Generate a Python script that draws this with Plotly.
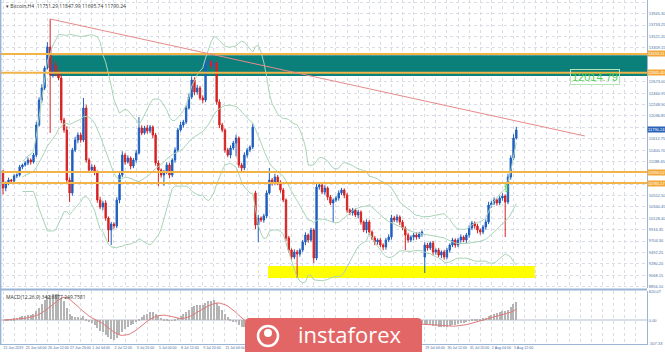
import plotly.graph_objects as go
import pandas as pd

# ---------------- data (Bitcoin H4) ----------------
close = [10694, 10787, 10843, 10824, 10918, 10936, 11085, 11123, 11160, 11216,
         11179, 11309, 11869, 12335, 12559, 12932, 13323, 12801, 12988, 12839,
         12745, 11962, 11775, 10843, 10601, 11402, 11589, 11682, 11589, 12186,
         11216, 11029, 11085, 10992, 10470, 10339, 10414, 10134, 9910, 10022,
         9985, 10470, 10936, 11309, 11179, 11253, 11104, 11216, 11347, 11813,
         11720, 11813, 11757, 11831, 11682, 11160, 11029, 10936, 10992, 11123,
         10936, 11216, 11402, 11775, 11869, 11925, 12186, 12391, 12708, 12484,
         12559, 12372, 12335, 13025, 13044, 12969, 13025, 12298, 11869, 11775,
         11402, 11309, 11440, 11533, 11626, 11123, 11067, 11309, 11402, 11458,
         11831, 10004, 10134, 10097, 10172, 10601, 10843, 10787, 10899, 10806,
         10656, 10470, 9761, 9537, 9407, 9500, 9463, 9537, 9687, 9817,
         9724, 9910, 9388, 10712, 10750, 10619, 10694, 10526, 10414, 10470,
         10507, 10601, 10656, 10563, 10283, 10228, 10283, 10190, 10246, 10060,
         9910, 10060, 9873, 9761, 9687, 9724, 9631, 9593, 9724, 9780,
         10134, 10097, 10153, 10060, 9948, 9817, 9724, 9780, 9817, 9780,
         9836, 9873, 9631, 9575, 9668, 9500, 9537, 9444, 9500, 9407,
         9537, 9631, 9724, 9631, 9724, 9780, 9724, 9817, 9948, 10041,
         9985, 9910, 9873, 9966, 10060, 10377, 10414, 10470, 10414, 10507,
         10545, 10433, 10899, 11253, 11626, 11775]

upper_wick = [40, 30, 45, 20, 35, 30, 40, 25, 35, 50,
              30, 40, 60, 50, 70, 40, 90, 523, 60, 80,
              50, 60, 40, 70, 50, 40, 60, 50, 45, 186,
              60, 40, 50, 40, 30, 60, 40, 50, 30, 40,
              30, 50, 40, 70, 40, 50, 30, 40, 60, 205,
              50, 40, 60, 40, 30, 40, 50, 30, 40, 50,
              40, 30, 50, 40, 60, 40, 50, 60, 70, 50,
              60, 40, 50, 80, 60, 40, 50, 40, 50, 40,
              30, 40, 50, 40, 60, 30, 40, 50, 40, 30,
              60, 40, 60, 30, 40, 50, 224, 40, 60, 40,
              30, 40, 30, 40, 30, 50, 40, 30, 40, 50,
              30, 40, 30, 60, 50, 40, 50, 30, 40, 30,
              40, 50, 40, 30, 40, 30, 40, 30, 40, 30,
              30, 50, 40, 30, 40, 30, 40, 30, 40, 50,
              60, 40, 50, 30, 40, 30, 40, 30, 40, 50,
              40, 30, 50, 40, 30, 40, 30, 40, 30, 40,
              40, 30, 40, 30, 40, 50, 30, 40, 50, 40,
              30, 40, 30, 40, 50, 60, 40, 50, 30, 40,
              50, 30, 60, 50, 70, 60]

lower_wick = [120, 60, 40, 50, 30, 40, 30, 40, 30, 40,
              50, 30, 40, 30, 50, 40, 30, 1080, 50, 60,
              40, 60, 50, 70, 168, 50, 40, 60, 50, 40,
              50, 40, 30, 60, 50, 40, 60, 50, 223, 280,
              50, 40, 60, 40, 50, 30, 60, 40, 50, 30,
              40, 30, 50, 40, 60, 50, 300, 50, 200, 40,
              60, 40, 50, 40, 30, 50, 40, 30, 40, 60,
              50, 40, 60, 40, 30, 50, 40, 50, 60, 40,
              50, 40, 60, 40, 250, 50, 60, 40, 50, 40,
              40, 80, 320, 40, 50, 40, 30, 50, 40, 60,
              50, 40, 60, 50, 60, 40, 448, 50, 40, 60,
              50, 40, 93, 40, 50, 40, 50, 60, 40, 354,
              40, 50, 40, 60, 50, 40, 50, 40, 60, 50,
              40, 60, 50, 40, 60, 50, 40, 60, 50, 40,
              50, 40, 50, 60, 40, 280, 50, 40, 60, 50,
              40, 50, 298, 50, 40, 60, 50, 40, 60, 50,
              40, 50, 40, 50, 40, 50, 40, 60, 50, 40,
              50, 60, 50, 40, 50, 40, 50, 40, 50, 40,
              50, 653, 40, 50, 40, 30]

gap_opens = {0: 10992, 91: 10601, 152: 9407}

x_labels = ["21 Jun 2019", "25 Jun 04:00", "26 Jun 12:00", "27 Jun 20:00",
            "1 Jul 04:00", "2 Jul 12:00", "3 Jul 20:00", "5 Jul 04:00",
            "8 Jul 12:00", "9 Jul 20:00", "11 Jul 04:00", "12 Jul 12:00",
            "15 Jul 20:00", "17 Jul 04:00", "18 Jul 12:00", "19 Jul 20:00",
            "23 Jul 04:00", "24 Jul 12:00", "25 Jul 20:00", "29 Jul 04:00",
            "30 Jul 12:00", "31 Jul 20:00", "2 Aug 04:00", "5 Aug 12:00"]
x_label_idx = list(range(0, 8 * len(x_labels), 8))

price_ticks = [14157.35, 13945.30, 13733.25, 13521.20, 13309.15, 13097.10,
               12885.05, 12673.00, 12460.95, 12248.90, 12036.85, 11824.80,
               11612.75, 11400.70, 11188.65, 10976.60, 10764.55, 10552.50,
               10340.45, 10128.40, 9916.35, 9704.30, 9492.25, 9280.20,
               9068.15, 8856.10]

zone_top, zone_bot = 13170, 12783
zone_start = 17
zone_lines = [13193.11, 12845.40]
support_lines = [10990.52, 10785.17]
yellow_x = [95.5, 191.7]
yellow_y = [9015, 9239]
trend_x = [17, 209.7]
trend_y = [13846, 11664]
zone_label = "12014.79"
zone_label_pos = (213.5, 12770)
arrow_pos = (181.6, 10712)
last_price = 11790.24
title_text = "Bitcoin,H4  11751.29 11847.99 11695.74 11790.24"

# ---------------- derived ----------------
n = len(close)
idx = list(range(n))
opens = [gap_opens.get(i, close[i - 1] if i > 0 else close[0]) for i in idx]
highs = [max(o, c) + u for o, c, u in zip(opens, close, upper_wick)]
lows = [min(o, c) - l for o, c, l in zip(opens, close, lower_wick)]

s = pd.Series(close, dtype=float)
mid = s.rolling(20, min_periods=8).mean()
sd = s.rolling(20, min_periods=8).std(ddof=0)
bb_up, bb_dn = mid + 2 * sd, mid - 2 * sd
macd = s.ewm(span=12, adjust=False).mean() - s.ewm(span=26, adjust=False).mean()
signal = macd.rolling(9, min_periods=1).mean()

XR = [-1.08, 232.1]
YR = [8829, 14200]
PLOT_W = 647
GRID = "#d9dee6"
AX = "#9ab4d6"
TXT = "#4a6fa5"
AXFONT = dict(size=4, color=TXT, family="Liberation Sans")
px_per_price = 288 / (YR[1] - YR[0])
LOGO_X = (245, 422)

boxed = zone_lines + support_lines + [last_price]
tick_text = ["" if any(abs(v - b) * px_per_price < 6 for b in boxed) else f"{v:.2f}"
             for v in price_ticks]


def bar_px(i):
    return (i - XR[0]) / (XR[1] - XR[0]) * PLOT_W


# date labels that sit under the logo box are hidden, as in the reference
x_text = ["" if LOGO_X[0] - 2 <= bar_px(i) <= LOGO_X[1] else t
          for i, t in zip(x_label_idx, x_labels)]

fig = go.Figure()

for band in (bb_up, mid, bb_dn):
    fig.add_trace(go.Scatter(x=idx, y=band, mode="lines",
                             line=dict(color="#a9d4b6", width=1),
                             hoverinfo="skip", xaxis="x", yaxis="y"))

fig.add_trace(go.Candlestick(
    x=idx, open=opens, high=highs, low=lows, close=close,
    increasing=dict(line=dict(color="#1f5fc0", width=1), fillcolor="#1f5fc0"),
    decreasing=dict(line=dict(color="#d62222", width=1), fillcolor="#d62222"),
    whiskerwidth=0, xaxis="x", yaxis="y"))

fig.add_trace(go.Bar(x=idx, y=macd, marker=dict(color="#b4b4b4", line=dict(width=0)),
                     width=0.4, xaxis="x2", yaxis="y2"))
fig.add_trace(go.Scatter(x=idx, y=signal, mode="lines",
                         line=dict(color="#e07a7a", width=1), xaxis="x2", yaxis="y2"))

hi, lo = float(macd.max()), float(macd.min())
R = max(hi / 0.55, -lo / 0.45) * 1.02
mrange = [-0.45 * R, 0.55 * R]

shapes = []
shapes.append(dict(type="rect", xref="x", yref="y", x0=zone_start, x1=XR[1],
                   y0=zone_bot, y1=zone_top, fillcolor="#0b7f7a",
                   line=dict(width=0), layer="between"))
shapes.append(dict(type="rect", xref="x", yref="y", x0=yellow_x[0], x1=yellow_x[1],
                   y0=yellow_y[0], y1=yellow_y[1], fillcolor="#ffff00",
                   line=dict(width=0), layer="between"))
for lv in zone_lines + support_lines:
    shapes.append(dict(type="line", xref="paper", yref="y", x0=0, x1=1, y0=lv, y1=lv,
                       line=dict(color="#f2b446", width=2)))
shapes.append(dict(type="line", xref="x", yref="y", x0=trend_x[0], x1=trend_x[1],
                   y0=trend_y[0], y1=trend_y[1], line=dict(color="#e88a8a", width=1)))
shapes.append(dict(type="line", xref="paper", yref="paper", x0=0, x1=1,
                   y0=0.1584, y1=0.1584, line=dict(color=AX, width=2)))
shapes.append(dict(type="line", xref="paper", yref="paper", x0=0.001, x1=0.001,
                   y0=0, y1=1, line=dict(color=AX, width=1.5)))

# instaforex logo
x0, x1 = LOGO_X[0] / PLOT_W, LOGO_X[1] / PLOT_W
yb, yt = -0.04, (344 - 318) / 344
rx, ry = 5 / PLOT_W, 5 / 344
shapes.append(dict(type="path", xref="paper", yref="paper",
                   path=f"M {x0},{yb} L {x0},{yt-ry} Q {x0},{yt} {x0+rx},{yt} "
                        f"L {x1-rx},{yt} Q {x1},{yt} {x1},{yt-ry} L {x1},{yb} Z",
                   fillcolor="#e36666", line=dict(width=0), layer="above"))
cx, cy = 268 / PLOT_W, (344 - 336) / 344
shapes.append(dict(type="circle", xref="paper", yref="paper",
                   x0=cx - 10 / PLOT_W, x1=cx + 10 / PLOT_W, y0=cy - 10 / 344,
                   y1=cy + 10 / 344, line=dict(color="white", width=2.5), layer="above"))
shapes.append(dict(type="circle", xref="paper", yref="paper",
                   x0=cx - 4 / PLOT_W, x1=cx + 4 / PLOT_W, y0=cy - 1 / 344, y1=cy + 7 / 344,
                   fillcolor="white", line=dict(width=0), layer="above"))

annotations = [
    dict(xref="paper", yref="paper", x=0.006, y=0.997, xanchor="left", yanchor="top",
         text="▾ " + title_text, showarrow=False, font=dict(size=5, color="#333")),
    dict(xref="paper", yref="paper", x=0.006, y=0.150, xanchor="left", yanchor="top",
         text="MACD(12,26,9) 342.6877 249.7581", showarrow=False,
         font=dict(size=5, color="#333")),
    dict(xref="x", yref="y", x=zone_label_pos[0], y=zone_label_pos[1], text=zone_label,
         showarrow=False, font=dict(size=11, color="#4fd14f", family="Liberation Sans"),
         bordercolor="#b5e6b5", borderwidth=1, borderpad=1),
    dict(xref="x", yref="y", x=arrow_pos[0], y=arrow_pos[1], text="⇧", showarrow=False,
         font=dict(size=11, color="#3ccc3c")),
    dict(xref="paper", yref="y", x=1, y=last_price, xanchor="left", text=f"{last_price:.2f}",
         showarrow=False, bgcolor="#2a62b8", font=dict(size=4, color="white",
                                                       family="Liberation Sans"),
         borderpad=0),
    dict(xref="paper", yref="paper", x=350 / PLOT_W, y=(344 - 351) / 344,
         xanchor="center", yanchor="bottom", text="instaforex",
         showarrow=False, font=dict(size=22, color="#ffffff", family="Open Sans")),
]
for lv in zone_lines + support_lines:
    annotations.append(dict(xref="paper", yref="y", x=1, y=lv, xanchor="left",
                            text=f"{lv:.2f}", showarrow=False, bgcolor="#f2a93b",
                            font=dict(size=4, color="white", family="Liberation Sans"),
                            borderpad=0))

fig.update_layout(
    width=665, height=352, margin=dict(l=0, r=18, t=0, b=8, autoexpand=False),
    paper_bgcolor="white", plot_bgcolor="white", showlegend=False,
    shapes=shapes, annotations=annotations, bargap=0,
    xaxis=dict(domain=[0, 1], range=XR, anchor="y", showticklabels=False,
               tickmode="linear", tick0=0, dtick=4, showgrid=True, gridcolor=GRID,
               griddash="dot", gridwidth=1, zeroline=False, rangeslider=dict(visible=False),
               showline=False, automargin=False),
    yaxis=dict(domain=[0.1628, 1], range=YR, side="right", anchor="x",
               tickvals=price_ticks, ticktext=tick_text, tickfont=AXFONT,
               showgrid=True, gridcolor=GRID, griddash="dot", zeroline=False,
               showline=True, linecolor=AX, linewidth=1, ticks="", ticklen=0,
               automargin=False),
    xaxis2=dict(domain=[0, 1], range=XR, anchor="y2", matches="x",
                tickvals=x_label_idx, ticktext=x_text,
                tickfont=dict(size=3.6, color=TXT, family="Liberation Sans"),
                tickangle=0, ticklabelposition="outside right", ticks="",
                showgrid=True, gridcolor=GRID, griddash="dot",
                minor=dict(tickmode="linear", tick0=0, dtick=4, showgrid=True,
                           gridcolor=GRID, griddash="dot"),
                zeroline=False, showline=True, linecolor=AX, linewidth=1,
                automargin=False),
    yaxis2=dict(domain=[0, 0.154], range=mrange, side="right", anchor="x2",
                tickvals=[mrange[1] * 0.97, 0, mrange[0] * 0.97],
                ticktext=[f"{mrange[1]*0.97:.2f}", "0.00", f"{mrange[0]*0.97:.2f}"],
                tickfont=AXFONT, showgrid=False, zeroline=True,
                zerolinecolor=GRID, showline=True, linecolor=AX, linewidth=1, ticks="",
                automargin=False),
)

fig.write_html("out.html")
